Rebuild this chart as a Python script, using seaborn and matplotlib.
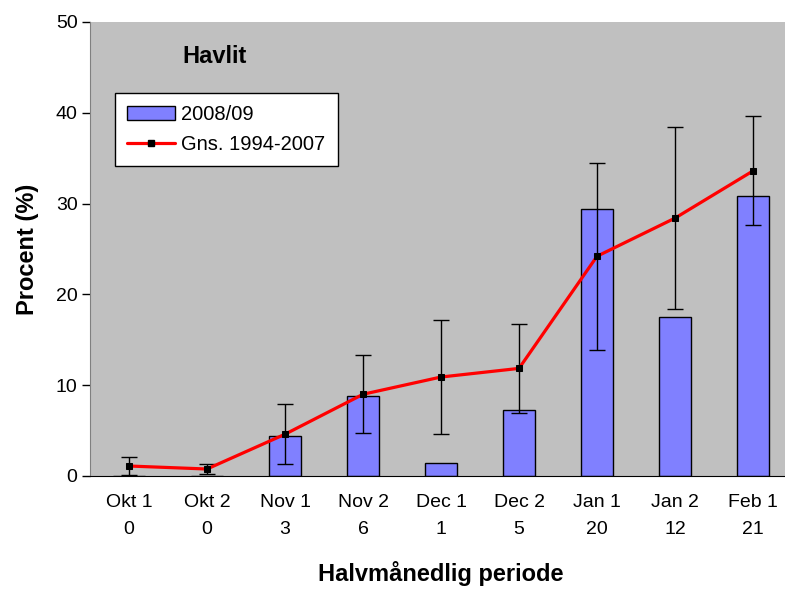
import numpy as np
import pandas as pd
import seaborn as sns
import matplotlib.pyplot as plt
from matplotlib.patches import Patch
from matplotlib.lines import Line2D

periods = ['Okt 1', 'Okt 2', 'Nov 1', 'Nov 2', 'Dec 1', 'Dec 2', 'Jan 1', 'Jan 2', 'Feb 1']
counts = [0, 0, 3, 6, 1, 5, 20, 12, 21]
season_0809 = [0.0, 0.0, 4.4, 8.8, 1.4, 7.3, 29.4, 17.5, 30.8]
mean_94_07 = [1.1, 0.77, 4.6, 9.0, 10.9, 11.85, 24.2, 28.4, 33.6]
sd_94_07 = [0.95, 0.6, 3.3, 4.3, 6.3, 4.9, 10.3, 10.0, 6.0]

tick_labels = [f'{p}\n{n}' for p, n in zip(periods, counts)]
df = pd.DataFrame({'periode': tick_labels, 'pct': season_0809,
                   'pos': np.arange(len(periods)), 'gns': mean_94_07})

sns.set_style('white')
plt.rcParams['font.family'] = ['Liberation Sans', 'DejaVu Sans']
plt.rcParams['text.color'] = 'black'
plt.rcParams['axes.labelcolor'] = 'black'
plt.rcParams['xtick.color'] = 'black'
plt.rcParams['ytick.color'] = 'black'

fig = plt.figure(figsize=(7.85, 5.91), dpi=100)
ax = fig.add_axes([90 / 785, 115 / 591, 702 / 785, 454 / 591])
ax.set_facecolor('#c0c0c0')

sns.barplot(data=df, x='periode', y='pct', color='#8080ff', saturation=1,
            width=0.4, edgecolor='black', linewidth=1, ax=ax, zorder=2)
ax.errorbar(df['pos'], mean_94_07, yerr=sd_94_07, fmt='none', ecolor='black',
            elinewidth=1, capsize=5.5, capthick=1, zorder=3)
sns.lineplot(data=df, x='pos', y='gns', color='red', linewidth=2.3, marker='s',
             markersize=5, markerfacecolor='black', markeredgecolor='black',
             ax=ax, zorder=4)

ax.set_xlim(-0.5, len(periods) - 0.5)
ax.set_ylim(0, 50)
ax.set_yticks(range(0, 51, 10))
ax.set_xticks(np.arange(len(periods)), tick_labels, minor=True)
ax.set_xticks(np.arange(-0.5, len(periods), 1), [''] * (len(periods) + 1))
for lab in ax.get_xticklabels(minor=True):
    lab.set_linespacing(1.75)
ax.tick_params(axis='x', which='major', direction='out', length=7, width=1)
ax.tick_params(axis='x', which='minor', length=0, labelsize=14, pad=13)
ax.tick_params(axis='y', direction='out', length=6, width=1,
               labelsize=14, pad=3, left=True)

for s in ['top', 'right']:
    ax.spines[s].set_visible(False)
ax.spines['left'].set_color('#808080')
ax.spines['bottom'].set_color('black')

ax.set_xlabel('Halvmånedlig periode', fontsize=17, fontweight='bold', labelpad=17)
ax.set_ylabel('Procent (%)', fontsize=17, fontweight='bold', labelpad=12)

ax.text(0.178, 0.923, 'Havlit', transform=ax.transAxes, fontsize=17,
        fontweight='bold', ha='center', va='center')

handles = [Patch(facecolor='#8080ff', edgecolor='black', linewidth=1),
           Line2D([], [], color='red', linewidth=2.3, marker='s', markersize=5,
                  markerfacecolor='black', markeredgecolor='black')]
leg = ax.legend(handles, ['2008/09', 'Gns. 1994-2007'], loc='upper left',
                bbox_to_anchor=(0.0356, 0.8436), borderaxespad=0, fontsize=14.5,
                frameon=True, fancybox=False, edgecolor='black', framealpha=1,
                handlelength=2.4, handletextpad=0.3, borderpad=0.6, labelspacing=0.55)
leg.get_frame().set_linewidth(1)

fig.savefig('out.png', dpi=100)
